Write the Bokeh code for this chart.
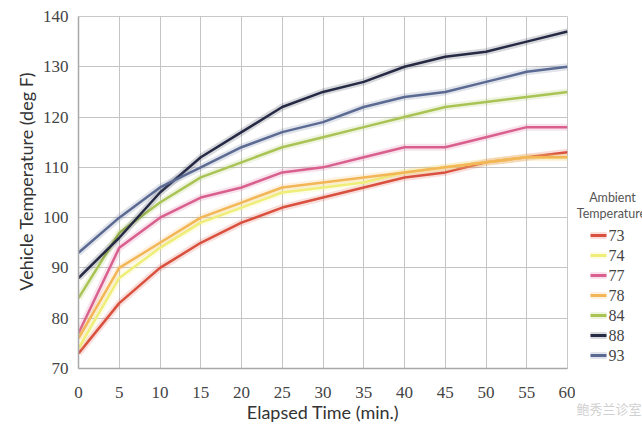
from bokeh.plotting import figure
from bokeh.models import Range1d, FixedTicker
from bokeh.layouts import row, column
from bokeh.core.properties import value
from bokeh.embed import file_html
from bokeh.resources import INLINE

minutes = [0, 5, 10, 15, 20, 25, 30, 35, 40, 45, 50, 55, 60]
ambient = ["73", "74", "77", "78", "84", "88", "93"]
t73 = [73, 83, 90, 95, 99, 102, 104, 106, 108, 109, 111, 112, 113]
t74 = [74, 88, 94, 99, 102, 105, 106, 107, 109, 110, 111, 112, 112]
t77 = [77, 94, 100, 104, 106, 109, 110, 112, 114, 114, 116, 118, 118]
t78 = [76, 90, 95, 100, 103, 106, 107, 108, 109, 110, 111, 112, 112]
t84 = [84, 97, 103, 108, 111, 114, 116, 118, 120, 122, 123, 124, 125]
t88 = [88, 96, 105, 112, 117, 122, 125, 127, 130, 132, 133, 135, 137]
t93 = [93, 100, 106, 110, 114, 117, 119, 122, 124, 125, 127, 129, 130]
series = [t73, t74, t77, t78, t84, t88, t93]
colors = ["#d9503f", "#eeee78", "#d9608e", "#f3b656", "#a9c455", "#262a45", "#5b6a92"]
y_ticks = [70, 80, 90, 100, 110, 120, 130, 140]
x_ticks = minutes
legend_title = ["Ambient", "Temperature"]
watermark = "鲍秀兰诊室"

SERIF = "Liberation Serif"
SANS = "Lato"

p = figure(width=575, height=425, output_backend="svg", toolbar_location=None,
           x_range=Range1d(0, 60), y_range=Range1d(70, 140),
           min_border_left=78, min_border_right=8, min_border_top=16, min_border_bottom=50,
           background_fill_color="white", border_fill_color="white")
p.outline_line_color = "#c8c8c8"

p.xaxis.ticker = FixedTicker(ticks=x_ticks)
p.yaxis.ticker = FixedTicker(ticks=y_ticks)
for ax in (p.xaxis, p.yaxis):
    ax.major_tick_line_color = None
    ax.minor_tick_line_color = None
    ax.axis_line_color = "#a8a8a8"
    ax.axis_line_width = 1.5
    ax.major_label_text_font = SERIF
    ax.major_label_text_font_size = "17px"
    ax.major_label_text_color = "#444444"
    ax.axis_label_text_font = SANS
    ax.axis_label_text_font_style = "normal"
    ax.axis_label_text_color = "#333333"
    ax.axis_label_text_font_size = "18px"
p.xaxis.axis_label = "Elapsed Time (min.)"
p.yaxis.axis_label = "\u2003\u2002Vehicle Temperature (deg F)"
p.xaxis.major_label_standoff = 12
p.yaxis.major_label_standoff = 4
p.xaxis.axis_label_standoff = 0
p.yaxis.axis_label_standoff = 3

p.grid.grid_line_color = "#c4c4c4"
p.grid.grid_line_width = 1

for vals, col in zip(series, colors):
    p.line(minutes, vals, line_color=col, line_width=7, line_alpha=0.18)
    p.line(minutes, vals, line_color=col, line_width=2.5)

# legend panel (pixel coordinates of the window, x from 575 to 642, y from top)
lg = figure(width=67, height=425, output_backend="svg", toolbar_location=None,
            x_range=Range1d(575, 642), y_range=Range1d(425, 0),
            min_border=0, background_fill_color="white", border_fill_color="white")
lg.axis.visible = False
lg.grid.visible = False
lg.outline_line_color = None

n = len(ambient)
item_y = [235 + 20 * i for i in range(n)]
lg.segment(x0=[590] * n, y0=item_y, x1=[606] * n, y1=item_y,
           line_color=colors, line_width=7, line_alpha=0.18)
lg.segment(x0=[590] * n, y0=item_y, x1=[606] * n, y1=item_y,
           line_color=colors, line_width=3)
lg.text(x=[608] * n, y=item_y, text=ambient, text_font=value(SERIF),
        text_font_size="16px", text_color="#444444",
        text_align="left", text_baseline="middle")
lg.text(x=[612, 611], y=[197, 213], text=legend_title, text_font=value(SANS),
        text_font_size="12.5px", text_color="#555555",
        text_align="center", text_baseline="middle")
lg.text(x=[576], y=[408], text=[watermark], text_font=value("Noto Sans CJK SC"),
        text_font_size="13px", text_color="#d0d0d0",
        text_align="left", text_baseline="middle")

layout = row(p, column(lg, spacing=0), spacing=0)
open("out.html", "w").write(file_html(layout, INLINE))
